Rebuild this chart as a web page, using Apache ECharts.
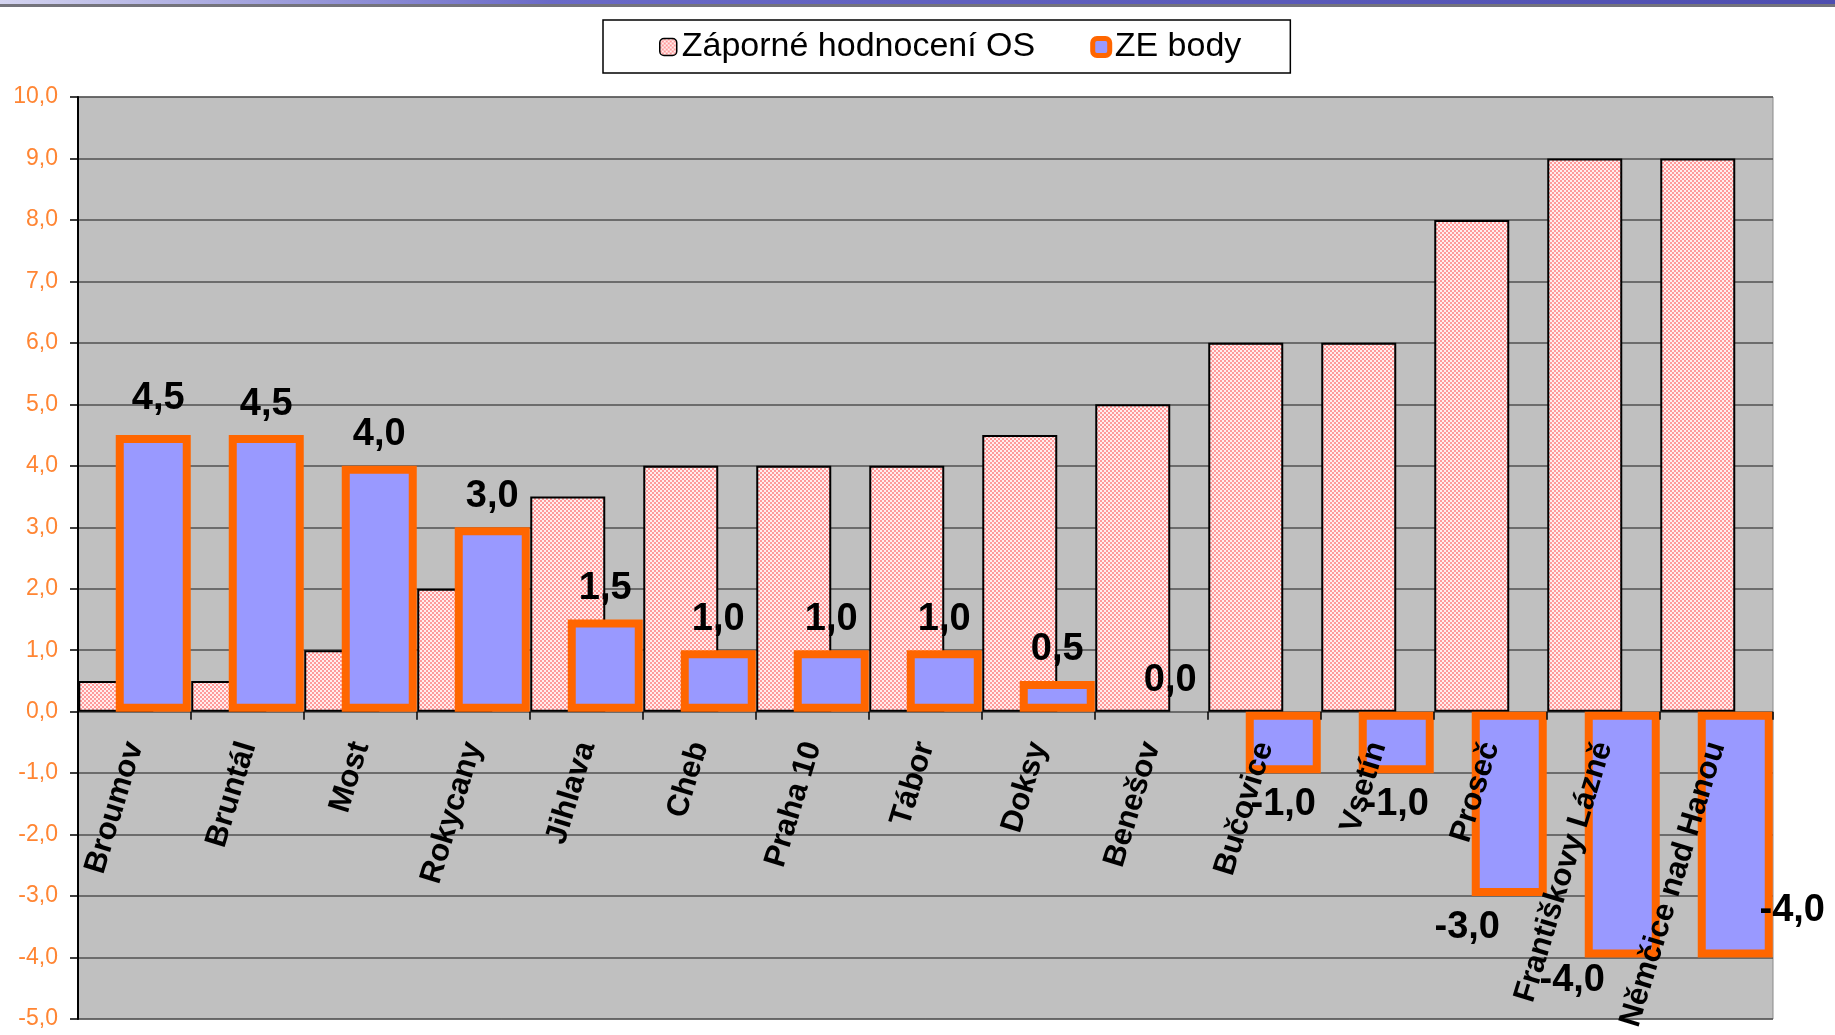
<!DOCTYPE html>
<html>
<head>
<meta charset="utf-8">
<script src="https://cdn.jsdelivr.net/npm/echarts@6/dist/echarts.min.js"></script>
<style>
    html, body { margin: 0; padding: 0; background: #fff; }
    #chart { width: 1835px; height: 1035px; }
</style>
</head>
<body>
<div id="chart"></div>
<script>
// chart data
var categories = ['Broumov', 'Bruntál', 'Most', 'Rokycany', 'Jihlava', 'Cheb', 'Praha 10', 'Tábor', 'Doksy',
    'Benešov', 'Bučovice', 'Vsetín', 'Proseč', 'Františkovy Lázně', 'Němčice nad Hanou'];
var negativeRating = [0.5, 0.5, 1.0, 2.0, 3.5, 4.0, 4.0, 4.0, 4.5, 5.0, 6.0, 6.0, 8.0, 9.0, 9.0];
var zeScore = [4.5, 4.5, 4.0, 3.0, 1.5, 1.0, 1.0, 1.0, 0.5, 0.0, -1.0, -1.0, -3.0, -4.0, -4.0];
var seriesNames = ['Záporné hodnocení OS', 'ZE body'];

// label nudges, copied from where the labels sit in the original
var labelOffsets = { 0: [5, -6], 12: [-42, 0], 13: [-50, -8], 14: [57, -78] };

var FONT = "'Liberation Sans', Arial, sans-serif";

// plot box (px) - the second grid only carries the category labels, its bottom edge is the 0 line
var PLOT = { left: 78, right: 62, top: 97, bottom: 16 };
var Y_MIN = -5, Y_MAX = 10;
var zeroFromBottom = PLOT.bottom + (1035 - PLOT.top - PLOT.bottom) * (0 - Y_MIN) / (Y_MAX - Y_MIN);

// hatched pink fill like the Excel pattern
function makeHatch() {
    var c = document.createElement('canvas');
    c.width = 4; c.height = 4;
    var ctx = c.getContext('2d');
    ctx.fillStyle = '#ffeeee';
    ctx.fillRect(0, 0, 4, 4);
    ctx.fillStyle = '#ff9a9a';
    ctx.fillRect(0, 0, 2, 2);
    ctx.fillRect(2, 2, 2, 2);
    return c;
}
var hatch = { image: makeHatch(), repeat: 'repeat' };

function fmt(v) {
    return Number(v).toFixed(1).replace('.', ',');
}

var zeData = zeScore.map(function (v, i) {
    var item = { value: v };
    if (v === 0) item.itemStyle = { borderWidth: 0 };
    if (v < 0) item.label = { position: 'bottom', distance: 12 };
    if (labelOffsets[i]) {
        item.label = item.label || {};
        item.label.offset = labelOffsets[i];
    }
    return item;
});

var chart = echarts.init(document.getElementById('chart'));

var option = {
    backgroundColor: '#ffffff',
    animation: false,
    graphic: [
        {
            type: 'rect', left: 0, top: 0, z: 100,
            shape: { width: 1835, height: 4 },
            style: {
                fill: new echarts.graphic.LinearGradient(0, 0, 1, 0, [
                    { offset: 0, color: '#d4d4f0' },
                    { offset: 0.3, color: '#6a6ac8' },
                    { offset: 1, color: '#4e4eb0' }
                ])
            }
        },
        {
            type: 'rect', left: 0, top: 4, z: 100,
            shape: { width: 1835, height: 3 },
            style: { fill: '#74747c' }
        }
    ],
    legend: {
        left: 603,
        top: 20,
        padding: [10, 49, 9, 56],
        itemGap: 55,
        itemWidth: 17,
        itemHeight: 17,
        backgroundColor: '#ffffff',
        borderColor: '#000000',
        borderWidth: 1.5,
        textStyle: { fontFamily: FONT, fontSize: 34, color: '#000' },
        data: [
            { name: seriesNames[0], itemStyle: { color: hatch, borderColor: '#000', borderWidth: 1.5 } },
            { name: seriesNames[1], itemStyle: { color: '#9999ff', borderColor: '#ff6600', borderWidth: 5 } }
        ]
    },
    grid: [
        {
            left: PLOT.left,
            right: PLOT.right,
            top: PLOT.top,
            bottom: PLOT.bottom,
            show: true,
            backgroundColor: '#c0c0c0',
            borderColor: '#8a8a8a',
            borderWidth: 1,
            containLabel: false,
            outerBoundsMode: 'none'
        },
        {
            left: PLOT.left,
            right: PLOT.right,
            top: PLOT.top,
            bottom: zeroFromBottom,
            show: false,
            containLabel: false,
            outerBoundsMode: 'none'
        }
    ],
    xAxis: [
        {
            type: 'category',
            gridIndex: 0,
            data: categories,
            axisLine: { show: false },
            axisTick: { show: false },
            axisLabel: { show: false },
            splitLine: { show: false }
        },
        {
            type: 'category',
            gridIndex: 1,
            data: categories,
            z: 10,
            axisLine: { show: false, onZero: false },
            axisTick: { show: true, length: 8, lineStyle: { color: '#000', width: 1.5 } },
            axisLabel: {
                interval: 0,
                rotate: 73,
                margin: 31,
                fontFamily: FONT,
                fontSize: 31,
                fontWeight: 'bold',
                color: '#000'
            },
            splitLine: { show: false }
        }
    ],
    yAxis: [
        {
            type: 'value',
            gridIndex: 0,
            min: Y_MIN,
            max: Y_MAX,
            interval: 1,
            axisLine: { show: true, lineStyle: { color: '#000', width: 2 } },
            axisTick: { show: true, inside: false, length: 8, lineStyle: { color: '#000', width: 1.5 } },
            axisLabel: {
                margin: 20,
                fontFamily: FONT,
                fontSize: 23,
                color: '#ff8533',
                formatter: fmt
            },
            splitLine: { show: true, lineStyle: { color: '#505050', width: 1.5 } }
        },
        {
            type: 'value',
            gridIndex: 1,
            min: 0,
            max: Y_MAX,
            show: false
        }
    ],
    series: [
        {
            name: seriesNames[0],
            type: 'bar',
            data: negativeRating,
            barWidth: 75,
            barGap: '-50%',
            itemStyle: { color: hatch, borderColor: '#000', borderWidth: 2 }
        },
        {
            name: seriesNames[1],
            type: 'bar',
            data: zeData,
            barWidth: 75,
            barGap: '-50%',
            itemStyle: { color: '#9999ff', borderColor: '#ff6600', borderWidth: 8 },
            label: {
                show: true,
                position: 'top',
                distance: 12,
                fontFamily: FONT,
                fontSize: 38,
                fontWeight: 'bold',
                color: '#000',
                formatter: function (p) { return fmt(p.value); }
            }
        }
    ]
};

chart.setOption(option);
</script>
</body>
</html>
